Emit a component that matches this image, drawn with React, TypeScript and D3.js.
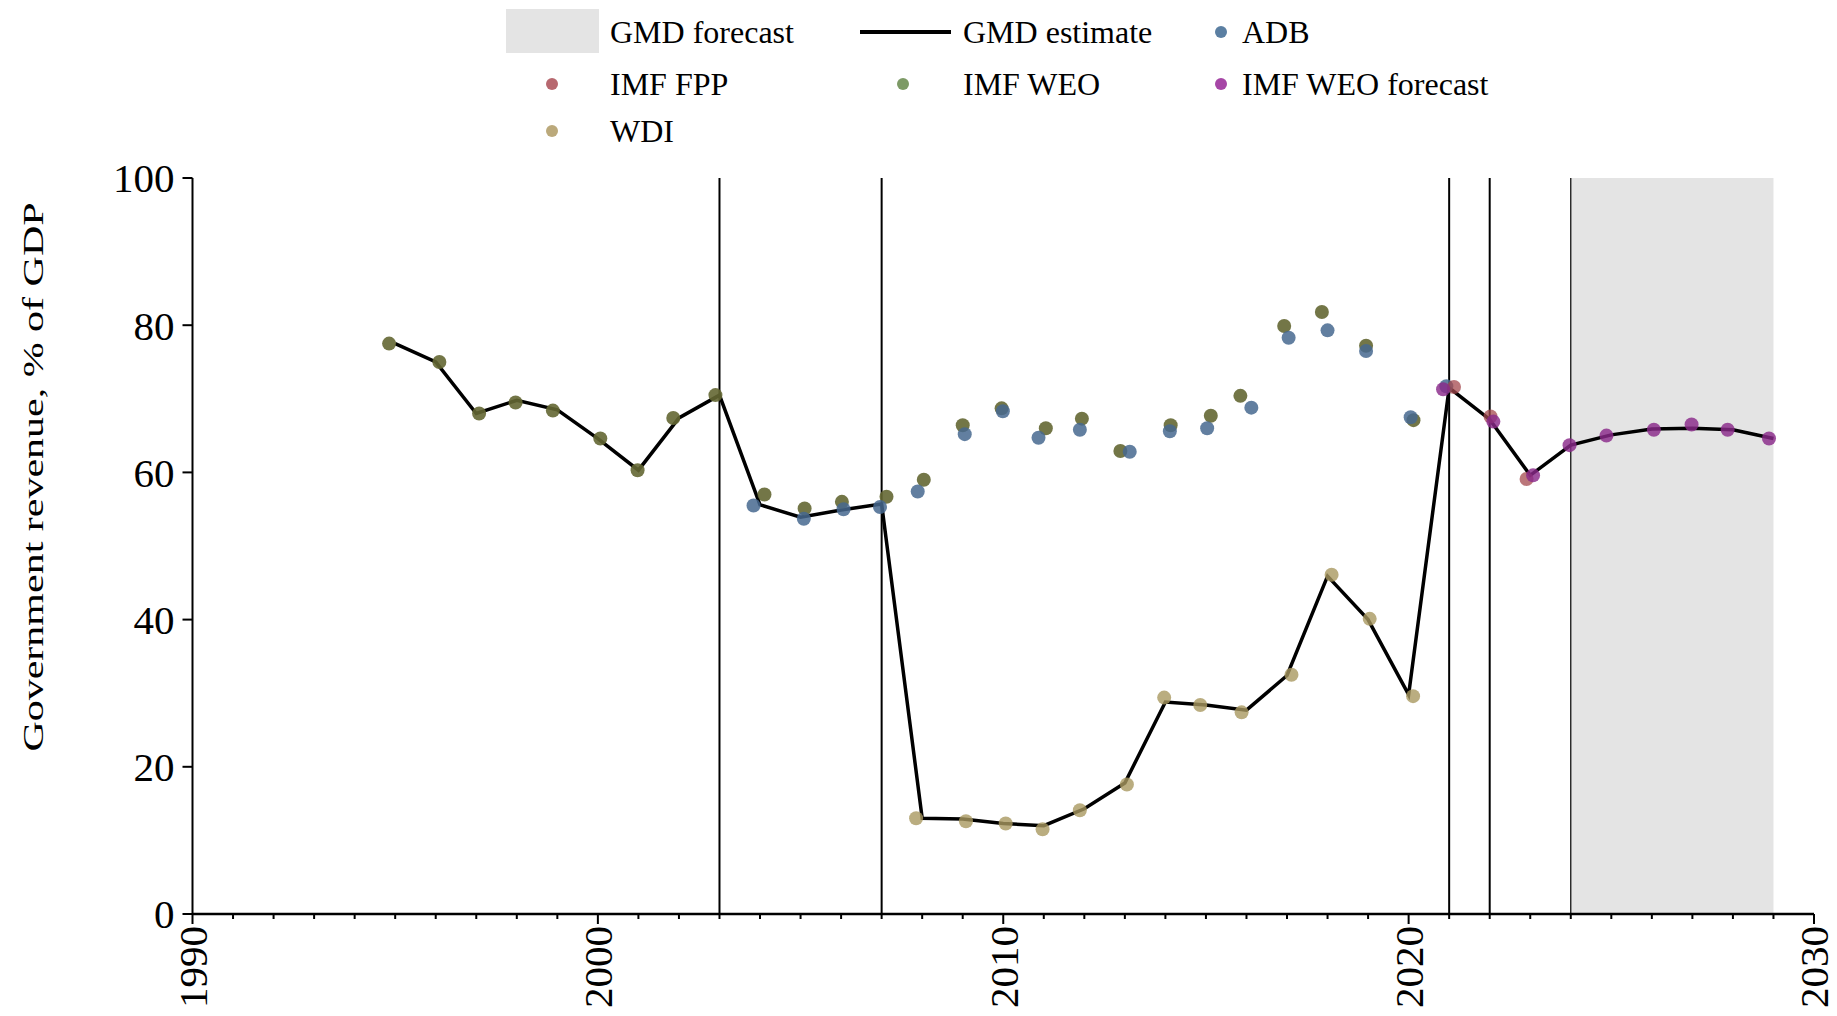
import React from "react";
import * as d3 from "d3";

// ---------- data ----------
const gmdYears = [1995, 1996, 1997, 1998, 1999, 2000, 2001, 2002, 2003, 2004, 2005, 2006, 2007, 2008, 2009, 2010, 2011, 2012, 2013, 2014, 2015, 2016, 2017, 2018, 2019, 2020, 2021, 2022, 2023, 2024, 2025, 2026, 2027, 2028, 2029];
const gmdValues = [77.5, 75.0, 68.0, 69.8, 68.5, 64.6, 60.3, 67.4, 70.5, 55.6, 53.9, 54.9, 55.7, 13.0, 12.9, 12.3, 12.0, 14.3, 17.8, 28.8, 28.4, 27.7, 32.4, 45.9, 40.0, 29.8, 71.5, 67.2, 59.6, 63.7, 65.1, 65.9, 66.0, 65.8, 64.6];

const adbYears = [2003.84, 2005.08, 2006.06, 2006.96, 2007.89, 2009.05, 2009.99, 2010.87, 2011.89, 2013.12, 2014.11, 2015.03, 2016.12, 2017.04, 2018.0, 2018.95, 2020.05, 2020.93];
const adbValues = [55.5, 53.7, 55.0, 55.3, 57.4, 65.2, 68.3, 64.7, 65.8, 62.8, 65.6, 66.0, 68.8, 78.3, 79.3, 76.5, 67.5, 71.7];

const weoYears = [1994.85, 1996.09, 1997.07, 1997.97, 1998.89, 2000.06, 2000.98, 2001.86, 2002.9, 2004.11, 2005.1, 2006.02, 2007.12, 2008.04, 2009.0, 2009.96, 2011.05, 2011.94, 2012.89, 2014.13, 2015.12, 2015.85, 2016.93, 2017.86, 2018.95, 2020.12];
const weoValues = [77.5, 75.0, 68.0, 69.5, 68.4, 64.6, 60.3, 67.4, 70.5, 57.0, 55.1, 56.0, 56.7, 59.0, 66.4, 68.7, 66.0, 67.3, 62.9, 66.4, 67.7, 70.4, 79.9, 81.8, 77.2, 67.1];

const wdiYears = [2007.85, 2009.08, 2010.06, 2010.97, 2011.89, 2013.05, 2013.97, 2014.86, 2015.88, 2017.11, 2018.1, 2019.04, 2020.11];
const wdiValues = [13.0, 12.6, 12.3, 11.5, 14.1, 17.6, 29.4, 28.4, 27.4, 32.5, 46.1, 40.1, 29.6];

const fppYears = [2021.12, 2022.02, 2022.91];
const fppValues = [71.6, 67.6, 59.1];

const weoFcYears = [2020.85, 2022.09, 2023.07, 2023.97, 2024.88, 2026.05, 2026.98, 2027.87, 2028.89];
const weoFcValues = [71.3, 66.9, 59.6, 63.7, 65.0, 65.8, 66.5, 65.8, 64.6];

const breakYears = [2003, 2007, 2021, 2022];
const forecastStart = 2024;
const forecastEnd = 2029;

const xTicks = [1990, 2000, 2010, 2020, 2030];
const yTicks = [0, 20, 40, 60, 80, 100];

const yLabel = "Government revenue, % of GDP";

// ---------- layout ----------
const W = 1837;
const H = 1016;
const FONT = "'Liberation Serif', 'Times New Roman', serif";

const x = d3.scaleLinear().domain([1990, 2030]).range([192.5, 1814]);
const y = d3.scaleLinear().domain([0, 100]).range([914, 178]);

type Series = { name: string; years: number[]; values: number[]; fill: string; opacity: number; legend: string };

const pointSeries: Series[] = [
  { name: "WDI", years: wdiYears, values: wdiValues, fill: "#a99860", opacity: 0.8, legend: "#bba97b" },
  { name: "IMF WEO", years: weoYears, values: weoValues, fill: "#646733", opacity: 0.9, legend: "#7d9a66" },
  { name: "ADB", years: adbYears, values: adbValues, fill: "#46698f", opacity: 0.85, legend: "#5b7fa2" },
  { name: "IMF FPP", years: fppYears, values: fppValues, fill: "#a4484e", opacity: 0.75, legend: "#b7686f" },
  { name: "IMF WEO forecast", years: weoFcYears, values: weoFcValues, fill: "#8a2a8a", opacity: 0.82, legend: "#a646a6" },
];

function legendColor(name: string) {
  const s = pointSeries.find((p) => p.name === name);
  return s ? s.legend : "#000";
}

export default function App() {
  const line = d3
    .line<number>()
    .x((_, i) => x(gmdYears[i]))
    .y((v) => y(v));
  const path = line(gmdValues) || "";

  const minorTicks = d3.range(1990, 2031);

  const legendText = { fontFamily: FONT, fontSize: 32, fill: "#000" } as const;

  return (
    <svg
      width={W}
      height={H}
      style={{ position: "absolute", left: 0, top: 0, background: "#fff" }}
      xmlns="http://www.w3.org/2000/svg"
    >
      <rect x={0} y={0} width={W} height={H} fill="#fff" />

      {/* forecast shading */}
      <rect
        x={x(forecastStart)}
        y={y(100)}
        width={x(forecastEnd) - x(forecastStart)}
        height={y(0) - y(100)}
        fill="#e4e4e4"
      />
      <line x1={x(forecastStart)} x2={x(forecastStart)} y1={y(100)} y2={y(0)} stroke="#000" strokeWidth={1.2} />

      {/* structural break lines */}
      {breakYears.map((yr) => (
        <line key={yr} x1={x(yr)} x2={x(yr)} y1={y(100)} y2={y(0)} stroke="#000" strokeWidth={2} />
      ))}

      {/* GMD estimate */}
      <path d={path} fill="none" stroke="#000" strokeWidth={3.5} strokeLinejoin="miter" />

      {/* points */}
      {pointSeries.map((s) => (
        <g key={s.name}>
          {s.values.map((v, i) => (
            <circle key={i} cx={x(s.years[i])} cy={y(v)} r={7} fill={s.fill} fillOpacity={s.opacity} />
          ))}
        </g>
      ))}

      {/* y axis */}
      <line x1={x(1990)} x2={x(1990)} y1={y(100)} y2={y(0)} stroke="#000" strokeWidth={2} />
      {yTicks.map((t) => (
        <g key={t}>
          <line x1={x(1990) - 10} x2={x(1990)} y1={y(t)} y2={y(t)} stroke="#000" strokeWidth={2} />
          <text
            x={x(1990) - 18}
            y={y(t)}
            dy="0.35em"
            textAnchor="end"
            fontFamily={FONT}
            fontSize={41}
            fill="#000"
          >
            {t}
          </text>
        </g>
      ))}

      {/* x axis */}
      <line x1={x(1990)} x2={x(2030)} y1={y(0)} y2={y(0)} stroke="#000" strokeWidth={2.5} />
      {minorTicks.map((t) => (
        <line
          key={t}
          x1={x(t)}
          x2={x(t)}
          y1={y(0)}
          y2={y(0) + (xTicks.includes(t) ? 10 : 5)}
          stroke="#000"
          strokeWidth={2}
        />
      ))}
      {xTicks.map((t) => (
        <text
          key={t}
          transform={`translate(${x(t)},${y(0) + 12}) rotate(-90)`}
          dy="0.35em"
          textAnchor="end"
          fontFamily={FONT}
          fontSize={41}
          fill="#000"
        >
          {t}
        </text>
      ))}

      {/* y axis title */}
      <text
        transform={`translate(43,477) rotate(-90) scale(1.4,1)`}
        textAnchor="middle"
        fontFamily={FONT}
        fontSize={30}
        fill="#000"
      >
        {yLabel}
      </text>

      {/* legend */}
      <g>
        <rect x={506} y={9} width={93} height={44} fill="#e4e4e4" />
        <text x={610} y={32} dy="0.35em" {...legendText}>GMD forecast</text>
        <line x1={860} x2={951} y1={32} y2={32} stroke="#000" strokeWidth={4} />
        <text x={963} y={32} dy="0.35em" {...legendText}>GMD estimate</text>
        <circle cx={1221} cy={32} r={6} fill={legendColor("ADB")} />
        <text x={1242} y={32} dy="0.35em" {...legendText}>ADB</text>

        <circle cx={552} cy={84} r={6} fill={legendColor("IMF FPP")} />
        <text x={610} y={84} dy="0.35em" {...legendText}>IMF FPP</text>
        <circle cx={903} cy={84} r={6} fill={legendColor("IMF WEO")} />
        <text x={963} y={84} dy="0.35em" {...legendText}>IMF WEO</text>
        <circle cx={1221} cy={84} r={6} fill={legendColor("IMF WEO forecast")} />
        <text x={1242} y={84} dy="0.35em" {...legendText}>IMF WEO forecast</text>

        <circle cx={552} cy={131} r={6} fill={legendColor("WDI")} />
        <text x={610} y={131} dy="0.35em" {...legendText}>WDI</text>
      </g>
    </svg>
  );
}
